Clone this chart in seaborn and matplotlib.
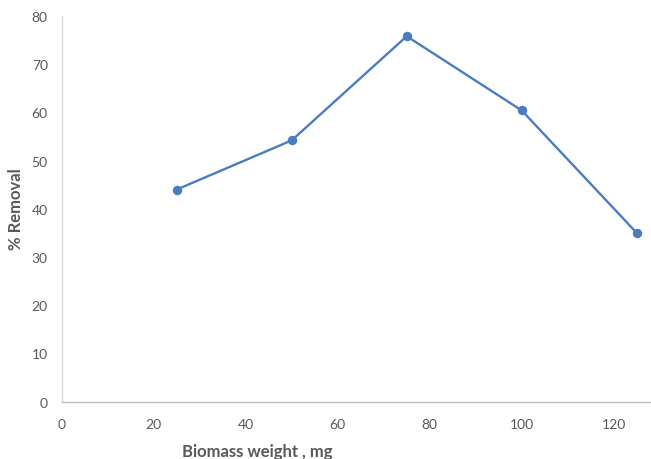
import matplotlib
matplotlib.use("Agg")
import matplotlib.pyplot as plt
import pandas as pd
import seaborn as sns

# 読み取った値
biomass_mg = [25, 50, 75, 100, 125]
removal_pct = [44.0, 54.2, 75.8, 60.4, 35.0]
x_ticks = [0, 20, 40, 60, 80, 100, 120]
y_ticks = [0, 10, 20, 30, 40, 50, 60, 70, 80]

sns.set_style("white")
plt.rcParams['font.family'] = ['Lato', 'DejaVu Sans']

df = pd.DataFrame({"biomass": biomass_mg, "removal": removal_pct})

fig = plt.figure(figsize=(6.51, 4.60), dpi=100)
ax = fig.add_axes([0.0948, 0.1246, 0.9045, 0.8385])

sns.lineplot(data=df, x="biomass", y="removal", ax=ax, color="#4A7CC0",
             linewidth=1.7, marker="o", markersize=6.8, markeredgewidth=0)

ax.set_xlim(0, 128)
ax.set_ylim(0, 80)
ax.set_xticks(x_ticks)
ax.set_yticks(y_ticks)
ax.tick_params(axis="both", length=0, labelsize=10, labelcolor="#595959")
ax.tick_params(axis="x", pad=12)
ax.tick_params(axis="y", pad=10)

for side in ["top", "right"]:
    ax.spines[side].set_visible(False)
ax.spines["left"].set_color("#D9D9D9")
ax.spines["bottom"].set_color("#BFBFBF")
ax.spines["left"].set_linewidth(1.0)
ax.spines["bottom"].set_linewidth(1.0)

ax.set_xlabel("")
ax.set_ylabel("")
fig.text(0.3955, 0.017, "Biomass weight , mg", fontsize=12, fontweight="bold",
         color="#595959", ha="center", va="center")
fig.text(0.024, 0.546, "% Removal", fontsize=12, fontweight="bold",
         color="#595959", rotation=90, ha="center", va="center")

fig.savefig("out.png", dpi=100)
